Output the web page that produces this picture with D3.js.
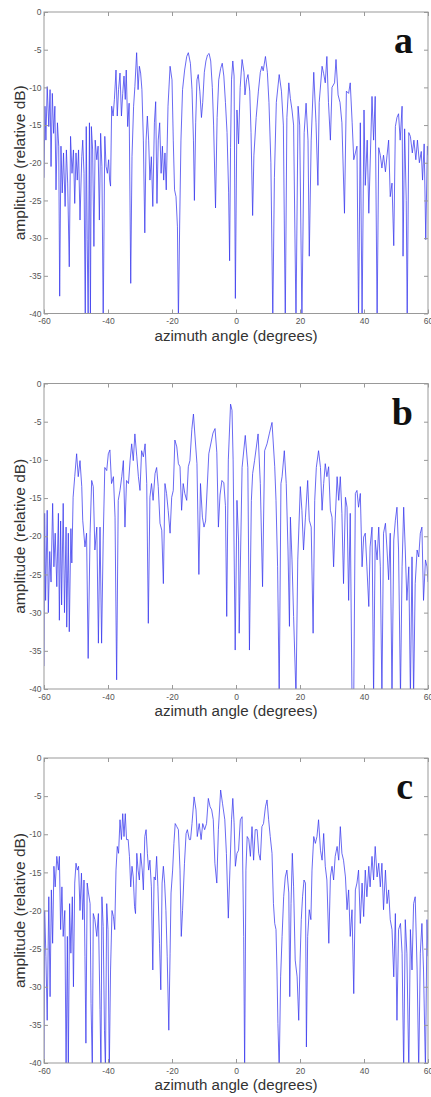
<!DOCTYPE html>
<meta charset="utf-8">
<script src="https://d3js.org/d3.v7.min.js"></script>
<style>
  body { margin: 0; background: #fff; }
  svg { display: block; font-family: 'Liberation Sans', Arial, sans-serif; }
  .tick text { fill: #555; font-size: 8.5px; }
  .tick line { stroke: #999; }
  .domain { display: none; }
</style>
<body>
<div id="chart"></div>
<script>

var xTicks = [-60, -40, -20, 0, 20, 40, 60]
var yTicks = [0, -5, -10, -15, -20, -25, -30, -35, -40]
var panelNames = ["a", "b", "c"]

// [azimuth angle, amplitude dB]
var panelA = [[-60,-22],[-59.7,-12.5],[-59.4,-17],[-59.0,-9.9],[-58.5,-15.2],[-58.1,-10.3],[-57.8,-20.5],[-57.4,-10.8],[-57.0,-16.1],[-56.6,-12.5],[-56.25,-23.6],[-55.8,-14.7],[-55.4,-17.8],[-55.1,-37.7],[-54.7,-17.8],[-54.3,-24],[-53.9,-18.7],[-53.4,-25.8],[-53.0,-18.3],[-52.6,-22.7],[-52.1,-33.8],[-51.7,-16.5],[-51.25,-21.4],[-50.8,-18.3],[-50.4,-25.4],[-50.0,-18.7],[-49.6,-22.3],[-49.2,-18.3],[-48.75,-27.6],[-48.2,-19.2],[-47.9,-17],[-47.5,-21.4],[-47.1,-41],[-46.8,-15.2],[-46.5,-30.2],[-46.2,-41],[-45.8,-14.7],[-45.5,-41],[-45.2,-15.2],[-44.8,-18.3],[-44.4,-31.1],[-44.0,-17],[-43.5,-19.6],[-43.1,-17.8],[-42.7,-27.6],[-42.3,-16.1],[-41.9,-20.5],[-41.5,-41],[-41.0,-16.5],[-40.6,-20.5],[-40.2,-21.4],[-39.8,-19.6],[-39.5,-22.3],[-39.2,-23.1],[-38.85,-12.5],[-38.4,-13.8],[-38.0,-11.6],[-37.5,-7.7],[-37.1,-13.8],[-36.7,-10.3],[-36.25,-8.1],[-35.8,-13.8],[-35.4,-10.8],[-35.0,-8.5],[-34.6,-11.6],[-34.3,-7.7],[-33.85,-15.2],[-33.4,-12.1],[-32.9,-36],[-32.5,-19.2],[-32.0,-12.5],[-31.6,-9.9],[-31.05,-5.4],[-30.6,-10.3],[-30.2,-7.2],[-29.8,-8.1],[-29.4,-10.3],[-28.95,-17],[-28.5,-29.3],[-28.1,-17],[-27.7,-13.8],[-27.3,-17],[-26.9,-22.3],[-26.45,-19.2],[-26.0,-25.8],[-25.5,-14.7],[-25.1,-11.9],[-24.7,-25.4],[-24.3,-17],[-23.85,-14.7],[-23.4,-21.4],[-23.0,-17.8],[-22.6,-22.3],[-22.2,-18.7],[-21.8,-23.6],[-21.25,-12.5],[-20.6,-7.2],[-20.0,-9],[-19.6,-17],[-19.2,-23.6],[-18.75,-24.5],[-18.3,-28.5],[-18.0,-41],[-17.6,-28],[-17.2,-17],[-16.7,-10.3],[-16.05,-7.7],[-15.4,-5.9],[-14.9,-5.4],[-14.25,-6.8],[-13.75,-10.3],[-13.3,-17],[-13.0,-25],[-12.6,-14.7],[-12.2,-9],[-11.8,-8.3],[-11.3,-10.5],[-10.8,-14],[-10.4,-12],[-9.9,-8],[-9.4,-6.5],[-8.9,-5.7],[-8.4,-5.5],[-7.9,-6.5],[-7.4,-10],[-7.0,-15],[-6.4,-26],[-5.9,-14],[-5.4,-9],[-4.8,-7.5],[-4.3,-6.8],[-3.8,-8.5],[-3.3,-12],[-2.8,-16],[-2.3,-24],[-2.0,-33],[-1.7,-18],[-1.4,-9],[-1.0,-6.5],[-0.6,-8.5],[-0.2,-38],[0.3,-13],[0.8,-17.5],[1.3,-10],[1.9,-6.3],[2.5,-8],[2.8,-11],[3.3,-9],[3.75,-8.3],[4.3,-10.5],[4.7,-16],[5.2,-27],[5.6,-19],[6.3,-14],[7.0,-10.5],[7.6,-8],[8.1,-7.2],[8.5,-7.8],[9.2,-5.9],[9.8,-8],[10.3,-12],[10.9,-20],[11.5,-41],[12.0,-22],[12.6,-12],[13.5,-8.3],[14.2,-10.5],[14.8,-15],[15.4,-41],[15.9,-14],[16.5,-9.4],[17.0,-11.5],[17.5,-13],[18.0,-15],[18.75,-41],[19.4,-12.5],[19.9,-15],[20.6,-41],[21.3,-16],[21.9,-12.1],[22.5,-17],[22.9,-32.4],[23.5,-17],[24.3,-8],[25.0,-14.7],[25.6,-23],[26.0,-12],[26.9,-7.2],[27.4,-8.2],[27.9,-9.4],[28.4,-5.9],[28.9,-12],[29.5,-17],[30.0,-10],[30.8,-9.4],[31.25,-6.3],[31.9,-11],[32.5,-12],[33.1,-14.7],[33.9,-26.7],[34.5,-10.5],[35.2,-10.8],[35.7,-9.4],[36.3,-14.7],[36.8,-19.6],[37.3,-18.7],[37.8,-17.8],[38.3,-41],[38.85,-14.7],[39.4,-41],[40.0,-13],[40.4,-23],[41.0,-17],[41.5,-26.7],[42.5,-11.2],[43.0,-17],[43.5,-11.2],[44.1,-41],[44.6,-18],[45.1,-19],[45.6,-20.7],[46.1,-19],[46.7,-21.2],[47.2,-19],[47.7,-17],[48.2,-24.5],[48.75,-22.7],[49.3,-31],[49.8,-15.2],[50.3,-14],[50.8,-13.5],[51.3,-17],[51.9,-12.5],[52.2,-32.4],[52.7,-15.5],[53.2,-25],[53.5,-41],[54.0,-16],[54.5,-16.5],[55.1,-18.7],[55.6,-17],[56.2,-19.6],[56.7,-17],[57.3,-20],[57.9,-18.5],[58.3,-22.3],[58.8,-17.5],[59.3,-30.2],[59.8,-17.8],[60,-19]]

var panelB = [[-60,-37],[-59.8,-17],[-59.5,-28.4],[-59.0,-16.6],[-58.65,-30],[-58.2,-22],[-57.8,-26],[-57.3,-15.7],[-56.9,-24],[-56.5,-19.6],[-56.0,-26.6],[-55.5,-17],[-55.2,-31],[-54.8,-18],[-54.5,-29],[-54.0,-15.7],[-53.6,-30],[-53.1,-18.8],[-52.9,-31.9],[-52.4,-19.6],[-52.1,-32.5],[-51.6,-19],[-51.3,-23.5],[-50.9,-14.9],[-50.4,-12.2],[-49.8,-9.2],[-49.3,-12.2],[-48.75,-10.1],[-48.2,-13.5],[-47.9,-17.9],[-47.2,-21.4],[-46.7,-19.6],[-46.2,-36],[-45.6,-19.6],[-45.1,-12.7],[-44.6,-13.5],[-44.1,-21.8],[-43.5,-18.8],[-43.0,-34],[-42.5,-18.8],[-42.0,-34],[-41.5,-20.5],[-41.0,-11],[-40.4,-11.4],[-39.9,-9.2],[-39.4,-8.7],[-38.9,-13.1],[-38.3,-12.2],[-37.8,-17.5],[-37.3,-38.8],[-36.8,-15.3],[-36.25,-14],[-35.7,-12.2],[-35.2,-10.1],[-34.7,-18.8],[-34.2,-12.7],[-33.6,-13.1],[-33.1,-10.1],[-32.6,-7.9],[-32.1,-10.1],[-31.6,-6.6],[-31.0,-9.6],[-30.5,-12.2],[-30.0,-14],[-29.5,-8.8],[-28.95,-9.6],[-28.4,-7.9],[-27.9,-13.1],[-27.4,-31.4],[-26.9,-14.9],[-26.4,-13.1],[-25.9,-15.3],[-25.3,-11.8],[-24.8,-11],[-24.3,-13.5],[-23.75,-18.3],[-23.2,-19.2],[-22.7,-26.2],[-22.2,-13.1],[-21.7,-14.4],[-21.2,-16.6],[-20.6,-19.6],[-20.1,-14.9],[-19.6,-14],[-19.1,-7.4],[-18.5,-8.3],[-18.0,-10.5],[-17.5,-10.9],[-17.0,-16.6],[-16.5,-13.1],[-16.0,-14.4],[-15.4,-15.3],[-14.9,-10.9],[-14.4,-10.1],[-13.8,-6],[-13.3,-4.0],[-12.8,-7],[-12.2,-10.5],[-11.6,-25],[-11.1,-13.1],[-10.5,-17.5],[-10.0,-18.8],[-9.5,-18],[-8.5,-9.2],[-7.2,-6.5],[-6.55,-5.9],[-6.0,-9],[-5.5,-18.8],[-5.0,-14.6],[-4.4,-12.7],[-3.8,-13],[-3.3,-16],[-2.9,-30.5],[-2.4,-10],[-1.7,-2.7],[-1.25,-3.5],[-0.9,-10],[-0.25,-34.9],[0.3,-15.3],[0.8,-20.5],[1.0,-32.7],[1.9,-11],[2.9,-6.8],[3.7,-11],[4.2,-34.9],[4.8,-15.3],[5.2,-11.8],[5.8,-10.1],[6.9,-6.6],[7.6,-13.1],[8.3,-26.6],[8.95,-8.8],[9.7,-7.9],[10.4,-6.6],[11.25,-5.1],[12.1,-10.9],[12.5,-15.3],[13.0,-24],[13.5,-41],[14.05,-13.1],[14.4,-12.2],[15.1,-8.8],[15.7,-13.1],[16.25,-21.8],[16.7,-31.8],[17.0,-17.5],[17.5,-23.1],[18.0,-30.5],[18.75,-41],[19.3,-23.1],[20.1,-13.5],[20.6,-16.6],[21.1,-21.8],[21.7,-17.5],[22.4,-12.7],[22.9,-17.9],[23.5,-18.8],[24.1,-32.7],[24.6,-15.3],[25.1,-11],[25.8,-8.8],[26.4,-11],[26.9,-16.6],[27.4,-13.1],[27.9,-10.5],[28.4,-12.2],[28.95,-10.9],[29.5,-16.6],[30.0,-17.5],[30.5,-24],[31.0,-17.9],[31.6,-12.2],[32.1,-15.3],[32.6,-12.2],[33.1,-17],[33.6,-26.2],[34.2,-14.9],[34.7,-16.2],[35.2,-28.4],[35.7,-17],[36.25,-41],[36.8,-41],[37.3,-14.4],[37.8,-14],[38.3,-16.2],[38.85,-14.4],[39.4,-24],[39.9,-20.1],[40.4,-19.6],[40.9,-24],[41.5,-29.2],[41.9,-21.4],[42.5,-18.8],[43.0,-41],[43.5,-20.5],[44.1,-23.1],[44.6,-18.8],[45.1,-24],[45.6,-41],[46.1,-19.6],[46.7,-18.3],[47.2,-21.8],[47.7,-25.7],[48.2,-19.6],[48.75,-41],[49.3,-20.5],[49.8,-17.9],[50.3,-16.2],[50.8,-21.8],[51.4,-41],[51.9,-24],[52.4,-16.2],[52.9,-21.8],[53.4,-28.4],[54.0,-24],[54.5,-41],[55.0,-22.7],[55.5,-41],[56.0,-26.2],[56.6,-21.8],[57.1,-22.7],[57.6,-19.6],[58.1,-18.8],[58.6,-28.4],[59.2,-23.1],[59.7,-24],[60,-26]]

var panelC = [[-60,-41],[-59.8,-20],[-59.4,-26],[-59.0,-34.4],[-58.5,-18.2],[-58.1,-31.3],[-57.7,-17.3],[-57.3,-24.3],[-56.9,-14.2],[-56.5,-16.9],[-56.0,-12.9],[-55.5,-14.7],[-55.2,-12.9],[-54.8,-22.5],[-54.4,-16.9],[-54.0,-23.4],[-53.5,-20],[-53.1,-41],[-52.7,-23.4],[-52.4,-41],[-52.0,-19.1],[-51.6,-25.6],[-51.15,-18.2],[-50.8,-30],[-50.4,-16.4],[-50.0,-13.8],[-49.6,-14.7],[-49.2,-14.2],[-48.75,-20],[-48.3,-15.1],[-47.9,-21.2],[-47.5,-16],[-47.2,-26],[-46.9,-37.4],[-46.5,-16.4],[-46.1,-17.7],[-45.6,-19.1],[-45.3,-32.2],[-44.9,-41],[-44.6,-20.4],[-44.1,-21.2],[-43.5,-23.4],[-43.0,-20.4],[-42.5,-33],[-42.2,-41],[-41.9,-18.2],[-41.5,-22.1],[-41.1,-35.7],[-40.8,-41],[-40.4,-19.1],[-40.0,-22.5],[-39.6,-41],[-39.2,-27.8],[-38.75,-20],[-38.3,-20.8],[-37.9,-22.5],[-37.5,-14.7],[-37.1,-11.6],[-36.7,-12.5],[-36.25,-8.1],[-35.8,-10.7],[-35.4,-7.3],[-35.0,-10.3],[-34.6,-7.3],[-34.2,-10.7],[-33.7,-10.7],[-33.3,-12.9],[-32.9,-16.9],[-32.5,-14.2],[-32.1,-15.6],[-31.7,-19.5],[-31.4,-20.4],[-31.0,-12.5],[-30.6,-14.7],[-30.2,-16],[-29.8,-12.5],[-29.3,-14.7],[-28.95,-17.3],[-28.5,-10.3],[-28.1,-9.4],[-27.7,-12.5],[-27.3,-14.7],[-26.9,-13.4],[-26.45,-16.9],[-26.0,-27.8],[-25.6,-15.6],[-25.2,-16],[-24.8,-12.9],[-24.4,-16.9],[-23.9,-24.3],[-23.5,-30.4],[-23.1,-16.4],[-22.7,-14.2],[-22.3,-16.4],[-21.9,-20],[-21.5,-26],[-21.0,-35.7],[-20.6,-25.6],[-20.3,-17.7],[-19.8,-14.7],[-19.4,-11.2],[-19.0,-8.6],[-18.5,-9],[-18.0,-9.4],[-17.5,-14.7],[-17.1,-23.4],[-16.7,-20],[-16.1,-13.8],[-15.6,-9.9],[-15.2,-9.4],[-14.6,-10.7],[-14.2,-10.7],[-13.75,-8.6],[-13.1,-5.1],[-12.5,-6.8],[-12.1,-10.3],[-11.5,-8.6],[-10.9,-10.7],[-10.4,-8.6],[-9.8,-9.4],[-9.2,-8.6],[-8.65,-5.3],[-8.1,-6.4],[-7.6,-6.8],[-7.1,-8.1],[-6.6,-13.8],[-6.0,-16.4],[-5.5,-9.4],[-4.8,-4.2],[-4.2,-6],[-3.5,-8.1],[-3.0,-12.5],[-2.4,-21],[-1.9,-14.7],[-1.4,-8.1],[-1.0,-5.3],[-0.6,-8.5],[-0.2,-14.2],[0.3,-12.5],[0.8,-12.1],[1.35,-8.1],[1.9,-7.7],[2.4,-23.4],[2.7,-41],[3.1,-14.7],[3.5,-10.3],[4.0,-10.7],[4.5,-12.9],[5.0,-9],[5.5,-13.4],[6.0,-9.4],[6.6,-9.4],[7.1,-12.5],[7.6,-13.4],[8.1,-9],[8.6,-8.6],[9.2,-6.4],[9.7,-5.5],[10.2,-8.1],[10.7,-10.3],[11.25,-12.5],[11.7,-19.1],[12.1,-21.7],[12.5,-22.5],[12.8,-27.8],[13.1,-34.8],[13.5,-41],[13.95,-28.7],[14.4,-23.4],[14.9,-18.2],[15.4,-15.6],[15.9,-14.7],[16.5,-17.7],[16.8,-31.3],[17.2,-19.1],[17.6,-12.5],[18.0,-16.9],[18.5,-26.5],[19.1,-28.7],[19.6,-34.4],[20.0,-26.9],[20.4,-21.2],[20.8,-18.2],[21.25,-16],[21.7,-16.4],[22.0,-37.9],[22.4,-23.4],[22.9,-19.9],[23.4,-21.2],[23.75,-14.7],[24.3,-10.3],[24.8,-11.2],[25.3,-10.3],[25.8,-8.1],[26.4,-12.1],[26.9,-13.4],[27.4,-9.9],[27.9,-14.2],[28.4,-16],[29.0,-24.3],[29.5,-15.6],[30.0,-14.2],[30.5,-16],[31.0,-12.9],[31.6,-11.6],[32.1,-13.4],[32.6,-9],[33.1,-12.5],[33.6,-13.4],[34.2,-15.6],[34.7,-19.9],[35.2,-17.3],[35.7,-23.4],[36.25,-19.9],[36.8,-30.9],[37.3,-17.3],[37.8,-16.4],[38.3,-14.7],[38.85,-21.7],[39.4,-16.4],[39.9,-20.8],[40.4,-14.7],[40.9,-18.2],[41.5,-14.2],[41.9,-16.9],[42.5,-12.9],[43.0,-16],[43.5,-11.6],[44.1,-15.6],[44.6,-13.8],[45.1,-16.9],[45.6,-13.8],[46.1,-19.9],[46.7,-14.7],[47.2,-19.1],[47.7,-17.3],[48.2,-21.2],[48.75,-22.5],[49.3,-28.7],[49.8,-20.4],[50.3,-34.4],[50.8,-22.5],[51.4,-21.7],[51.9,-25.6],[52.4,-41],[52.9,-21.2],[53.4,-25.6],[54.0,-41],[54.5,-22.5],[55.0,-27.8],[55.5,-19.1],[56.0,-18.2],[56.6,-27.8],[57.1,-41],[57.6,-25.6],[58.1,-21.7],[58.6,-27.8],[59.2,-41],[59.7,-21.2],[60,-26]]

var width = 431
    height = 1097
    left = 44
    right = 428

var panels = [
  {name: panelNames[0], data: panelA, top: 12, bottom: 313.5},
  {name: panelNames[1], data: panelB, top: 383.5, bottom: 689},
  {name: panelNames[2], data: panelC, top: 758, bottom: 1063}
]

var svg = d3.select("#chart")
  .append("svg")
    .attr("width", width)
    .attr("height", height)

svg.append("rect")
  .attr("width", width)
  .attr("height", height)
  .attr("fill", "#fff")

var x = d3.scaleLinear()
  .domain([-60, 60])
  .range([left, right])

panels.forEach(function(p, i) {
  var y = d3.scaleLinear()
    .domain([-40, 0])
    .range([p.bottom, p.top])

  var g = svg.append("g")

  g.append("clipPath")
    .attr("id", "clip" + i)
    .append("rect")
      .attr("x", left)
      .attr("y", p.top)
      .attr("width", right - left)
      .attr("height", p.bottom - p.top)

  var line = d3.line()
    .x(function(d) { return x(d[0]) })
    .y(function(d) { return y(d[1]) })

  g.append("path")
    .datum(p.data)
    .attr("clip-path", "url(#clip" + i + ")")
    .attr("fill", "none")
    .attr("stroke", "#3838ee")
    .attr("stroke-width", 0.75)
    .attr("stroke-linejoin", "round")
    .attr("d", line)

  // MATLAB style box with ticks on all four sides
  g.append("g")
    .attr("transform", "translate(0," + p.bottom + ")")
    .call(d3.axisBottom(x).tickValues(xTicks).tickSize(-4).tickPadding(4.5)
      .tickFormat(function(d) { return String(d) }))

  g.append("g")
    .attr("transform", "translate(0," + p.top + ")")
    .call(d3.axisTop(x).tickValues(xTicks).tickSize(-4).tickFormat(""))

  g.append("g")
    .attr("transform", "translate(" + left + ",0)")
    .call(d3.axisLeft(y).tickValues(yTicks).tickSize(-4).tickPadding(2.5)
      .tickFormat(function(d) { return String(d) }))

  g.append("g")
    .attr("transform", "translate(" + right + ",0)")
    .call(d3.axisRight(y).tickValues(yTicks).tickSize(-4).tickFormat(""))

  g.append("rect")
    .attr("x", left)
    .attr("y", p.top)
    .attr("width", right - left)
    .attr("height", p.bottom - p.top)
    .attr("fill", "none")
    .attr("stroke", "#999")
    .attr("stroke-width", 1)

  g.append("text")
    .attr("x", x(0))
    .attr("y", p.bottom + 27)
    .attr("text-anchor", "middle")
    .attr("textLength", 163)
    .attr("lengthAdjust", "spacingAndGlyphs")
    .style("font-size", "14px")
    .style("fill", "#333")
    .text("azimuth angle (degrees)")

  g.append("text")
    .attr("transform", "translate(25," + (p.top + p.bottom) / 2 + ") rotate(-90)")
    .attr("text-anchor", "middle")
    .attr("textLength", 155)
    .attr("lengthAdjust", "spacingAndGlyphs")
    .style("font-size", "14px")
    .style("fill", "#333")
    .text("amplitude (relative dB)")

  g.append("text")
    .attr("x", 413)
    .attr("y", p.top + 41)
    .attr("text-anchor", "end")
    .style("font-family", "'Liberation Serif', 'Times New Roman', serif")
    .style("font-weight", "bold")
    .style("font-size", "38px")
    .style("fill", "#111")
    .text(p.name)
})

</script>
</body>
